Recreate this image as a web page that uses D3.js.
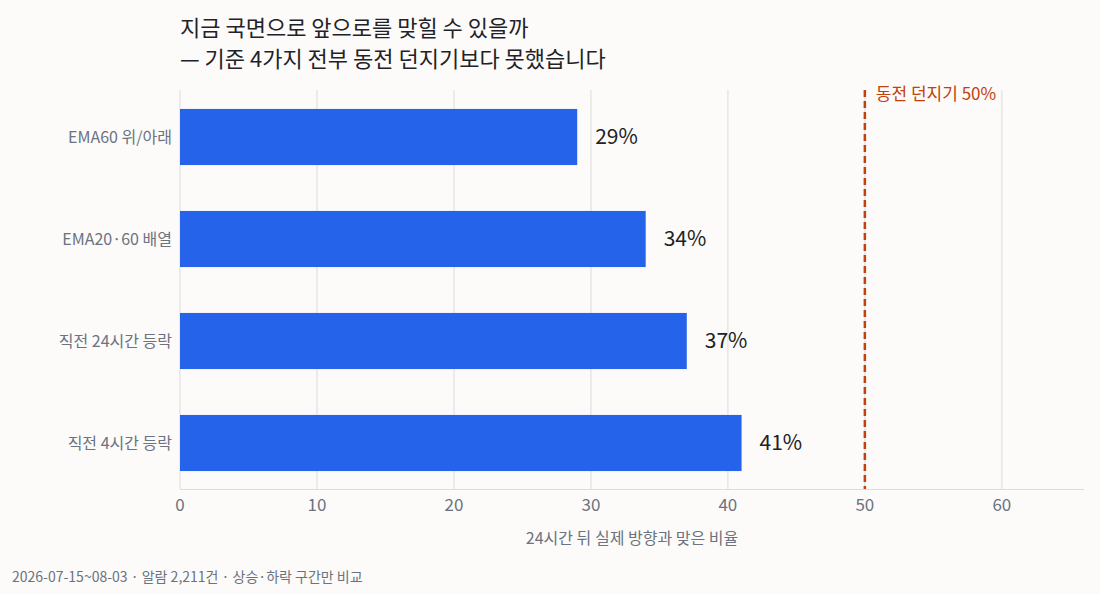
<!DOCTYPE html>
<html><head><meta charset="utf-8">
<script src="https://cdn.jsdelivr.net/npm/d3@7"></script>
<style>body{margin:0;background:#fcfbf9;font-family:"Noto Sans CJK KR","Noto Sans",sans-serif}</style>
</head><body><svg id="c" width="1100" height="594"></svg>
<script>
// data
var categories = ["EMA60 위/아래", "EMA20·60 배열", "직전 24시간 등락", "직전 4시간 등락"];
var hitRates = [29, 34, 37, 41];
var xTicks = [0, 10, 20, 30, 40, 50, 60];
var baseline = 50;

var svg = d3.select("#c");
svg.append("rect").attr("width", 1100).attr("height", 594).attr("fill", "#fcfbf9");

var x = d3.scaleLinear().domain([0, 66]).range([180, 1084]);
var y = d3.scaleBand().domain(categories).range([86, 494]).paddingInner(0.45).paddingOuter(0.225);

// grid
svg.selectAll(".grid").data(xTicks).enter().append("line")
  .attr("x1", d => x(d)).attr("x2", d => x(d)).attr("y1", 90).attr("y2", 489)
  .attr("stroke", "#e6e6e6").attr("stroke-width", 1.5);

// bars
svg.selectAll(".bar").data(hitRates).enter().append("rect")
  .attr("x", x(0)).attr("y", (d, i) => y(categories[i]))
  .attr("width", d => x(d) - x(0)).attr("height", y.bandwidth())
  .attr("fill", "#2563eb");

svg.selectAll(".val").data(hitRates).enter().append("text")
  .attr("x", d => x(d) + 18).attr("y", (d, i) => y(categories[i]) + y.bandwidth() / 2)
  .attr("dy", "0.35em").attr("font-size", 21).attr("fill", "#222")
  .text(d => d + "%");

// category labels
svg.selectAll(".cat").data(categories).enter().append("text")
  .attr("x", 172).attr("y", d => y(d) + y.bandwidth() / 2).attr("dy", "0.35em")
  .attr("text-anchor", "end").attr("font-size", 16).attr("fill", "#6b7280")
  .text(d => d);

// baseline
svg.append("line").attr("x1", x(baseline)).attr("x2", x(baseline)).attr("y1", 90).attr("y2", 489)
  .attr("stroke", "#c2410c").attr("stroke-width", 2.5).attr("stroke-dasharray", "7,4");
svg.append("text").attr("x", x(baseline) + 11).attr("y", 100).attr("font-size", 17)
  .attr("fill", "#c2410c").text("동전 던지기 " + baseline + "%");

// x axis
svg.append("line").attr("x1", 180).attr("x2", 1084).attr("y1", 489.5).attr("y2", 489.5)
  .attr("stroke", "#dddddd");
svg.selectAll(".tick").data(xTicks).enter().append("text")
  .attr("x", d => x(d)).attr("y", 511).attr("text-anchor", "middle")
  .attr("font-size", 17).attr("fill", "#6b7280").text(d => d);
svg.append("text").attr("x", 632).attr("y", 544).attr("text-anchor", "middle")
  .attr("font-size", 16).attr("fill", "#6b7280").text("24시간 뒤 실제 방향과 맞은 비율");

// title
svg.append("text").attr("x", 180).attr("y", 36).attr("font-size", 22).attr("fill", "#1f2328")
  .text("지금 국면으로 앞으로를 맞힐 수 있을까");
svg.append("text").attr("x", 180).attr("y", 67).attr("font-size", 22).attr("fill", "#1f2328")
  .text("— 기준 4가지 전부 동전 던지기보다 못했습니다");

// footer
svg.append("text").attr("x", 12).attr("y", 582).attr("font-size", 14).attr("fill", "#6b7280")
  .text("2026-07-15~08-03 · 알람 2,211건 · 상승·하락 구간만 비교");
</script></body></html>
